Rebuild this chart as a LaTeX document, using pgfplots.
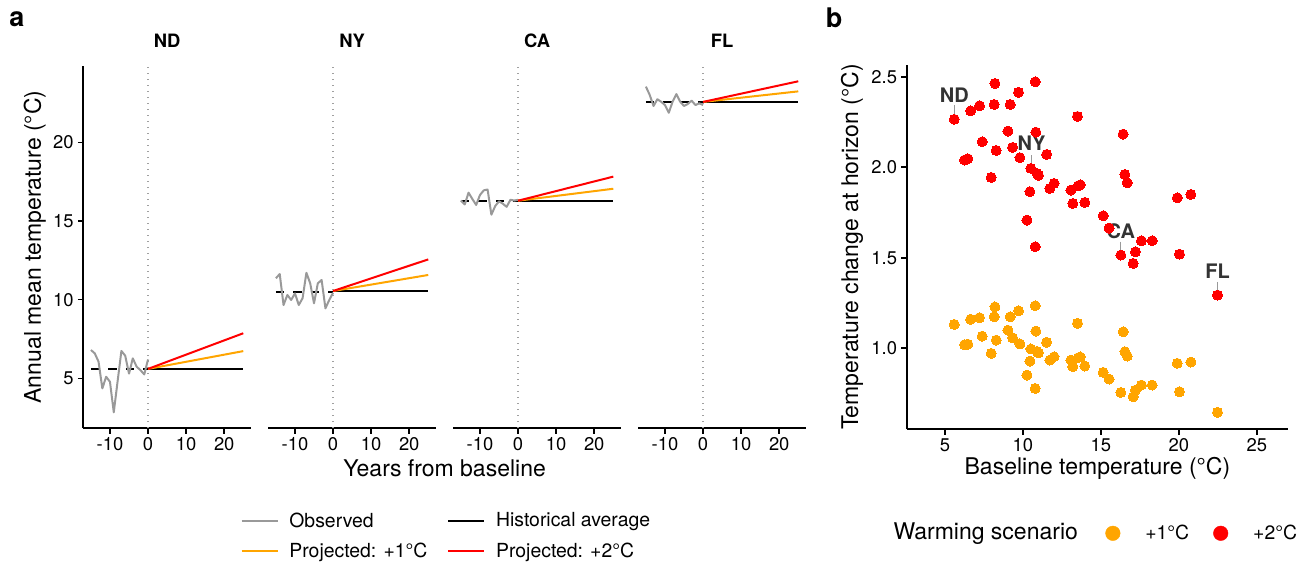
\documentclass[border=0pt]{standalone}
\usepackage{pgfplots}
\pgfplotsset{compat=1.18}
\usepackage{pgfplotstable}
\usepackage{fontspec}
\setmainfont{TeX Gyre Heros}
\definecolor{obsgray}{HTML}{999999}
\definecolor{vlgray}{HTML}{A0A0A0}
\definecolor{orng}{HTML}{FFA500}
\definecolor{rd}{HTML}{FF0000}
\definecolor{lblgray}{HTML}{333333}
\newcommand{\ticksize}{\fontsize{18.4bp}{22bp}\selectfont}
\newcommand{\legsize}{\fontsize{19.4bp}{23bp}\selectfont}
\newcommand{\titlesize}{\fontsize{23bp}{27bp}\selectfont}
\newcommand{\labsize}{\fontsize{20bp}{24bp}\selectfont}

\pgfplotstableread{
x d1 d2
5.60 1.132 2.265
6.26 1.020 2.040
6.47 1.023 2.047
6.65 1.160 2.312
7.22 1.169 2.340
7.39 1.067 2.141
7.97 0.972 1.944
8.16 1.174 2.347
8.21 1.229 2.463
8.29 1.045 2.093
9.04 1.100 2.200
9.19 1.174 2.347
9.34 1.058 2.110
9.72 1.207 2.414
9.81 1.024 2.053
10.26 0.852 1.708
10.45 0.929 1.865
10.51 0.996 1.994
10.79 1.235 2.472
10.79 0.778 1.561
10.83 1.095 2.194
10.90 0.983 1.966
11.00 0.975 1.955
11.52 1.033 2.071
11.73 0.935 1.883
12.00 0.953 1.911
13.08 0.935 1.874
13.20 0.898 1.800
13.50 1.138 2.281
13.55 0.948 1.898
13.68 0.952 1.903
13.97 0.902 1.806
15.15 0.867 1.732
15.53 0.830 1.664
16.28 0.756 1.515
16.43 1.091 2.183
16.54 0.981 1.960
16.69 0.957 1.914
17.07 0.732 1.469
17.22 0.769 1.533
17.60 0.797 1.594
18.29 0.797 1.594
19.90 0.917 1.831
20.04 0.760 1.520
20.77 0.924 1.850
22.48 0.646 1.294
}\scatterdata

\pgfplotsset{
  facet/.style={
    scale only axis, width=167.6bp, height=362bp, anchor=south west,
    xmin=-17, xmax=27, ymin=1.83, ymax=24.84,
    axis x line*=bottom,
    xtick={-10,0,10,20}, xticklabels={-10,0,10,20},
    tick align=outside, major tick length=5.5bp,
    major tick style={line width=1.6bp, black},
    axis line style={line width=1.6bp, black},
    tick label style={font=\ticksize, black},
    xticklabel style={inner sep=0pt, yshift=-4bp},
    yticklabel style={inner sep=0pt, xshift=-4bp},
    title style={font=\bfseries\ticksize, at={(0.5,1)}, anchor=center, yshift=19bp},
  },
  obs/.style={obsgray, line width=2bp, line join=round},
  hist/.style={black, line width=2bp},
  histd/.style={black, line width=2bp, dash pattern=on 8.5bp off 9bp},
  pone/.style={orng, line width=2bp},
  ptwo/.style={rd, line width=2bp},
  vl/.style={vlgray, line width=1.3bp, dash pattern=on 1.4bp off 4.6bp},
}

\begin{document}
\begin{tikzpicture}
\useasboundingbox (0,0) rectangle (1314bp,565bp);

% ---------------- ND ----------------
\begin{axis}[facet, at={(83.3bp,136.8bp)}, axis y line*=left,
  ytick={5,10,15,20}, yticklabels={5,10,15,20}, title=ND,
  legend columns=2,
  legend cell align=left,
  legend image code/.code={\draw[#1] (0bp,0bp) -- (36bp,0bp);},
  legend style={at={(0.938,-0.2975)}, anchor=west, draw=none, fill=none,
    inner sep=0pt, font=\legsize, row sep=10.5bp,
    /tikz/every odd column/.append style={column sep=8.7bp},
    /tikz/every even column/.append style={column sep=18bp}}]
\addplot[vl, forget plot] coordinates {(0,1.83) (0,24.84)};
\addplot[histd, forget plot] coordinates {(-15,5.6) (0,5.6)};
\addplot[obs] coordinates {(-15,6.80) (-14,6.59) (-13,6.06) (-12,4.36) (-11,5.10) (-10,4.78) (-9,2.84) (-8,4.80) (-7,6.74) (-6,6.44) (-5,5.30) (-4,6.27) (-3,5.74) (-2,5.52) (-1,5.25) (0,6.20)};
\addlegendentry{Observed}
\addplot[hist] coordinates {(0,5.6) (25,5.6)};
\addlegendentry{Historical average}
\addplot[pone] coordinates {(0,5.6) (25,6.73)};
\addlegendentry{Projected: +1°C}
\addplot[ptwo] coordinates {(0,5.6) (25,7.865)};
\addlegendentry{Projected: +2°C}
\end{axis}

% ---------------- NY ----------------
\begin{axis}[facet, at={(268.3bp,136.8bp)}, axis y line=none, ytick=\empty, title=NY]
\addplot[vl] coordinates {(0,1.83) (0,24.84)};
\addplot[histd] coordinates {(-15,10.5) (0,10.5)};
\addplot[obs] coordinates {(-15,11.36) (-14,11.63) (-13,9.66) (-12,10.30) (-11,9.98) (-10,10.40) (-9,9.66) (-8,10.09) (-7,11.71) (-6,11.04) (-5,9.77) (-4,11.04) (-3,11.25) (-2,9.45) (-1,9.98) (0,10.44)};
\addplot[hist] coordinates {(0,10.55) (25,10.55)};
\addplot[pone] coordinates {(0,10.55) (25,11.57)};
\addplot[ptwo] coordinates {(0,10.55) (25,12.56)};
\end{axis}

% ---------------- CA ----------------
\begin{axis}[facet, at={(453.3bp,136.8bp)}, axis y line=none, ytick=\empty, title=CA]
\addplot[vl] coordinates {(0,1.83) (0,24.84)};
\addplot[histd] coordinates {(-15,16.28) (0,16.28)};
\addplot[obs] coordinates {(-15,16.30) (-14,16.05) (-13,16.80) (-12,16.40) (-11,16.02) (-10,16.65) (-9,16.95) (-8,17.00) (-7,15.40) (-6,15.95) (-5,16.25) (-4,16.10) (-3,15.90) (-2,16.35) (-1,16.30) (0,16.35)};
\addplot[hist] coordinates {(0,16.29) (25,16.29)};
\addplot[pone] coordinates {(0,16.29) (25,17.05)};
\addplot[ptwo] coordinates {(0,16.29) (25,17.82)};
\end{axis}

% ---------------- FL ----------------
\begin{axis}[facet, at={(638.3bp,136.8bp)}, axis y line=none, ytick=\empty, title=FL]
\addplot[vl] coordinates {(0,1.83) (0,24.84)};
\addplot[histd] coordinates {(-15,22.55) (0,22.55)};
\addplot[obs] coordinates {(-15,23.54) (-14,23.01) (-13,22.31) (-12,22.74) (-11,22.58) (-10,22.37) (-9,21.88) (-8,22.58) (-7,23.07) (-6,22.58) (-5,22.31) (-4,22.44) (-3,22.65) (-2,22.37) (-1,22.48) (0,22.37)};
\addplot[hist] coordinates {(0,22.57) (25,22.57)};
\addplot[pone] coordinates {(0,22.57) (25,23.24)};
\addplot[ptwo] coordinates {(0,22.57) (25,23.88)};
\end{axis}

% ---------------- panel b ----------------
\begin{axis}[scale only axis, width=381.3bp, height=364bp, at={(906.7bp,136bp)}, anchor=south west,
  xmin=2.55, xmax=27, ymin=0.554, ymax=2.565,
  axis x line*=bottom, axis y line*=left,
  xtick={5,10,15,20,25}, xticklabels={5,10,15,20,25},
  ytick={1,1.5,2,2.5}, yticklabels={1.0,1.5,2.0,2.5},
  tick align=outside, major tick length=5.5bp,
  major tick style={line width=1.6bp, black},
  axis line style={line width=1.6bp, black},
  tick label style={font=\ticksize, black},
  xticklabel style={inner sep=0pt, yshift=-4bp},
  yticklabel style={inner sep=0pt, xshift=-4bp},
  legend columns=-1,
  legend style={at={(0.5205,-0.2865)}, anchor=west, draw=none, fill=none,
    inner sep=0pt, font=\legsize,
    /tikz/every odd column/.append style={column sep=23bp},
    /tikz/every even column/.append style={column sep=22bp}}]
\addplot[only marks, mark=*, mark size=5bp, orng, mark options={fill=orng, draw=orng, line width=0pt},
  legend image code/.code={\fill[orng] (0bp,0bp) circle (7.3bp);}] table[x=x, y=d1] \scatterdata;
\addlegendentry{+1°C}
\addplot[only marks, mark=*, mark size=5bp, rd, mark options={fill=rd, draw=rd, line width=0pt},
  legend image code/.code={\fill[rd] (0bp,0bp) circle (7.3bp);}] table[x=x, y=d2] \scatterdata;
\addlegendentry{+2°C}
\draw[obsgray, line width=1bp] (axis cs:5.6,2.344) -- (axis cs:5.6,2.290);
\draw[obsgray, line width=1bp] (axis cs:10.56,2.067) -- (axis cs:10.56,2.012);
\draw[obsgray, line width=1bp] (axis cs:16.28,1.589) -- (axis cs:16.28,1.539);
\draw[obsgray, line width=1bp] (axis cs:22.48,1.367) -- (axis cs:22.48,1.322);
\node[font=\bfseries\labsize, text=lblgray] at (axis cs:5.6,2.399) {ND};
\node[font=\bfseries\labsize, text=lblgray] at (axis cs:10.56,2.132) {NY};
\node[font=\bfseries\labsize, text=lblgray] at (axis cs:16.28,1.644) {CA};
\node[font=\bfseries\labsize, text=lblgray] at (axis cs:22.48,1.423) {FL};
\end{axis}

% ---------------- titles ----------------
\node[font=\bfseries\fontsize{27bp}{30bp}\selectfont] at (17bp,546bp) {a};
\node[font=\bfseries\fontsize{27bp}{30bp}\selectfont] at (834bp,547bp) {b};
\node[font=\titlesize, rotate=90] at (34.7bp,318bp) {Annual mean temperature (°C)};
\node[font=\titlesize] at (444.6bp,97bp) {Years from baseline};
\node[font=\titlesize, rotate=90] at (852bp,318bp) {Temperature change at horizon (°C)};
\node[font=\titlesize] at (1097.4bp,97bp) {Baseline temperature (°C)};
\node[font=\titlesize, anchor=west, inner sep=0pt] at (893.3bp,31.7bp) {Warming scenario};
\end{tikzpicture}
\end{document}
